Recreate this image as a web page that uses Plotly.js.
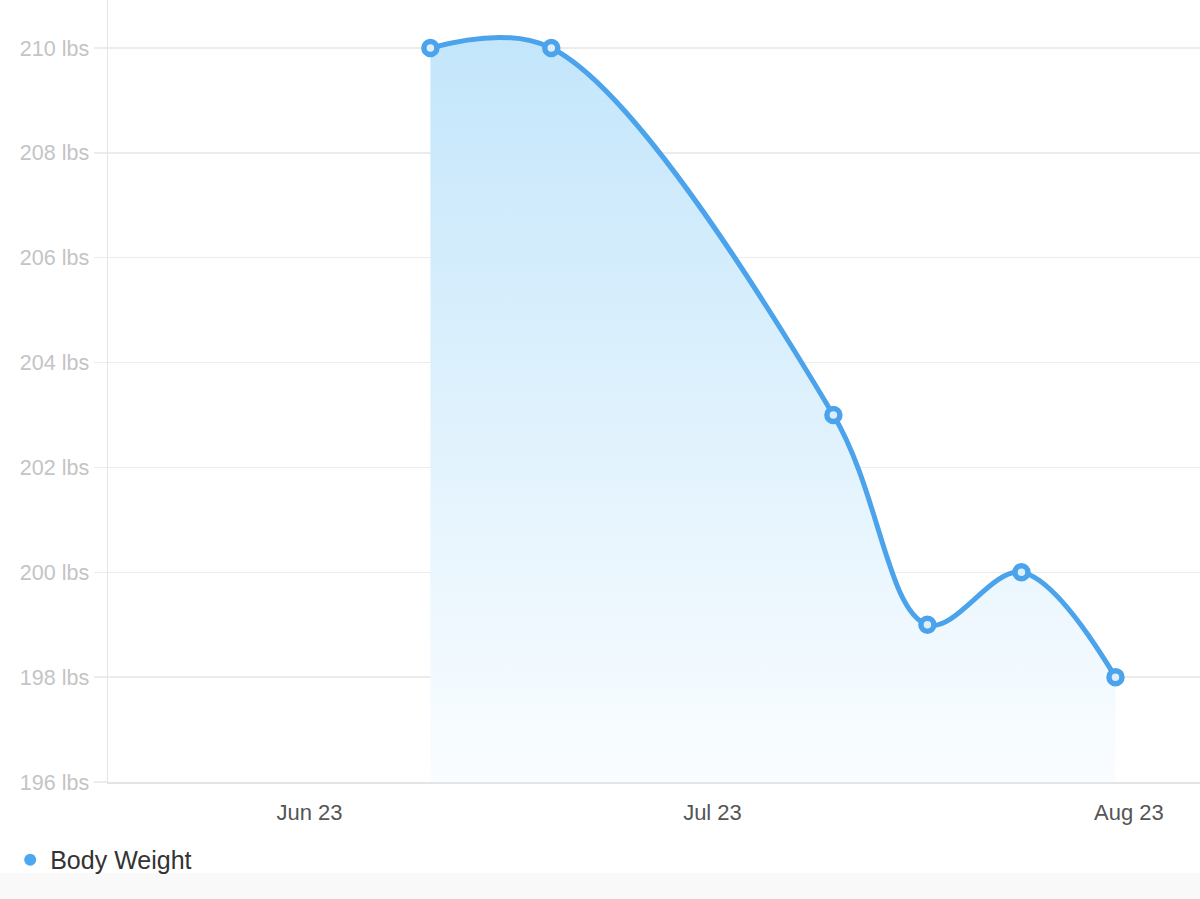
<!DOCTYPE html>
<html>
<head>
<meta charset="utf-8">
<script src="https://cdn.plot.ly/plotly-3.0.1.min.js"></script>
<style>html,body{margin:0;padding:0;background:#fff;}#chart{width:1200px;height:899px;}</style>
</head>
<body>
<div id="chart"></div>
<script>
const dates = ['2023-06-10', '2023-06-19', '2023-07-10', '2023-07-17', '2023-07-24', '2023-07-31'];
const weights = [210, 210, 203, 199, 200, 198];
const seriesName = 'Body Weight';
const yTicks = [196, 198, 200, 202, 204, 206, 208, 210];
const yTickText = yTicks.map(v => v + ' lbs');
const xTicks = ['2023-06-01', '2023-07-01', '2023-08-01'];
const xTickText = ['Jun 23', 'Jul 23', 'Aug 23'];

const lineColor = '#4ba3eb';

const main = {
  x: dates, y: weights, type: 'scatter', mode: 'lines+markers',
  line: {shape: 'spline', smoothing: 1, color: lineColor, width: 5},
  marker: {symbol: 'circle', size: 13, color: '#dcedfb', line: {color: lineColor, width: 5.5}},
  fill: 'tozeroy',
  fillgradient: {type: 'vertical', start: 196, stop: 210,
    colorscale: [[0, 'rgba(250,253,255,1)'], [1, 'rgba(196,230,251,1)']]},
  showlegend: false, hoverinfo: 'x+y'
};
const legendItem = {
  x: [null], y: [null], type: 'scatter', mode: 'markers', name: seriesName,
  marker: {symbol: 'circle', size: 12, color: '#4da8f0'}, showlegend: true
};

const layout = {
  width: 1200, height: 899,
  margin: {l: 108, r: 0, t: 0, b: 117},
  paper_bgcolor: '#ffffff', plot_bgcolor: '#ffffff',
  font: {family: 'Liberation Sans, Arial, sans-serif'},
  xaxis: {
    type: 'date', range: ['2023-05-17', '2023-08-06 07:00'],
    tickvals: xTicks, ticktext: xTickText,
    showgrid: false, zeroline: false,
    showline: true, linecolor: '#e4e4e4', linewidth: 1.5,
    ticks: 'outside', ticklen: 10, tickcolor: 'rgba(0,0,0,0)',
    tickfont: {size: 22, color: '#555555'}
  },
  yaxis: {
    range: [196, 210.915],
    tickvals: yTicks, ticktext: yTickText,
    showgrid: true, gridcolor: '#ececec', gridwidth: 1.5,
    zeroline: false, showline: true, linecolor: '#e4e4e4', linewidth: 1.5,
    ticks: 'outside', ticklen: 13, tickcolor: '#ececec', tickwidth: 1.5,
    tickfont: {size: 21.5, color: '#c4c4c4'}
  },
  showlegend: true,
  legend: {
    xref: 'container', yref: 'container', x: 0.0085, y: 0.0434,
    xanchor: 'left', yanchor: 'middle', orientation: 'h',
    font: {size: 25, color: '#333333'}, bgcolor: 'rgba(0,0,0,0)'
  },
  shapes: [{
    type: 'rect', xref: 'paper', yref: 'paper', x0: -0.2, x1: 1.1, y0: -0.17, y1: -0.1164,
    fillcolor: '#f9f9f9', line: {width: 0}, layer: 'below'
  }]
};

Plotly.newPlot('chart', [main, legendItem], layout, {displayModeBar: false, staticPlot: true});
</script>
</body>
</html>
